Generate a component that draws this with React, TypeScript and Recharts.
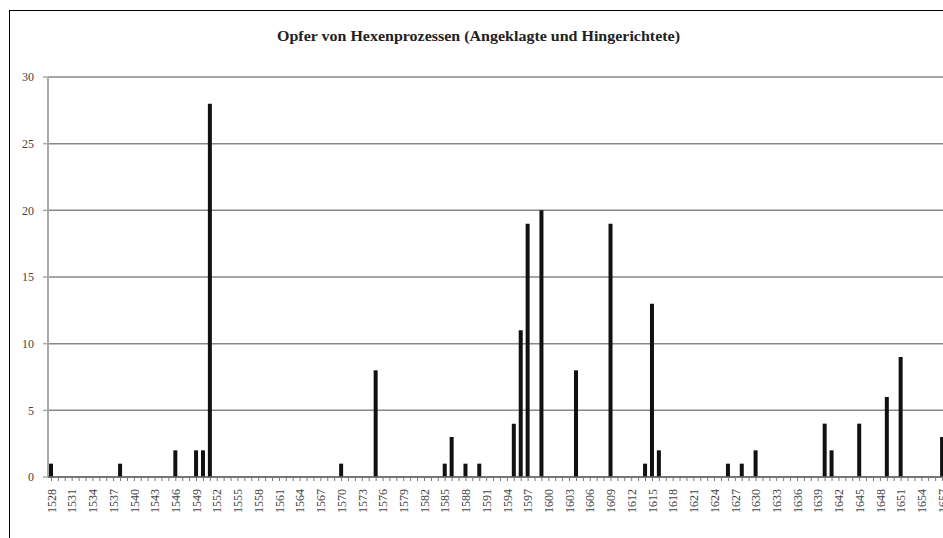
import React from "react";
import { BarChart, Bar, XAxis, YAxis, CartesianGrid } from "recharts";

const TITLE = "Opfer von Hexenprozessen (Angeklagte und Hingerichtete)";

const years: string[] = [
  "1528", "1529", "1530", "1531", "1532", "1533", "1534", "1535", "1536", "1537",
  "1538", "1539", "1540", "1541", "1542", "1543", "1544", "1545", "1546", "1547",
  "1548", "1549", "1550", "1551", "1552", "1553", "1554", "1555", "1556", "1557",
  "1558", "1559", "1560", "1561", "1562", "1563", "1564", "1565", "1566", "1567",
  "1568", "1569", "1570", "1571", "1572", "1573", "1574", "1575", "1576", "1577",
  "1578", "1579", "1580", "1581", "1582", "1583", "1584", "1585", "1586", "1587",
  "1588", "1589", "1590", "1591", "1592", "1593", "1594", "1595", "1596", "1597",
  "1598", "1599", "1600", "1601", "1602", "1603", "1604", "1605", "1606", "1607",
  "1608", "1609", "1610", "1611", "1612", "1613", "1614", "1615", "1616", "1617",
  "1618", "1619", "1620", "1621", "1622", "1623", "1624", "1625", "1626", "1627",
  "1628", "1629", "1630", "1631", "1632", "1633", "1634", "1635", "1636", "1637",
  "1638", "1639", "1640", "1641", "1642", "1643", "1644", "1645", "1646", "1647",
  "1648", "1649", "1650", "1651", "1652", "1653", "1654", "1655", "1656", "1657",
];

const victims: number[] = [
  1, 0, 0, 0, 0, 0, 0, 0, 0, 0,
  1, 0, 0, 0, 0, 0, 0, 0, 2, 0,
  0, 2, 2, 28, 0, 0, 0, 0, 0, 0,
  0, 0, 0, 0, 0, 0, 0, 0, 0, 0,
  0, 0, 1, 0, 0, 0, 0, 8, 0, 0,
  0, 0, 0, 0, 0, 0, 0, 1, 3, 0,
  1, 0, 1, 0, 0, 0, 0, 4, 11, 19,
  0, 20, 0, 0, 0, 0, 8, 0, 0, 0,
  0, 19, 0, 0, 0, 0, 1, 13, 2, 0,
  0, 0, 0, 0, 0, 0, 0, 0, 1, 0,
  1, 0, 2, 0, 0, 0, 0, 0, 0, 0,
  0, 0, 4, 2, 0, 0, 0, 4, 0, 0,
  0, 6, 0, 9, 0, 0, 0, 0, 0, 3,
];

const yTicks: number[] = [0, 5, 10, 15, 20, 25, 30];

const data = years.map((y, i) => ({ year: y, value: victims[i] }));

const FONT = "'Liberation Serif', 'Times New Roman', serif";

const YearTick = (props: any) => {
  const { x, y, payload, index } = props;
  if (index % 3 !== 0) return null;
  return (
    <text
      transform={`translate(${x},${y + 8}) rotate(-90)`}
      textAnchor="end"
      dy="0.35em"
      fontSize={12}
      fontFamily={FONT}
      fill="#444"
    >
      {payload.value}
    </text>
  );
};

export default function App() {
  return (
    <div
      style={{
        position: "fixed",
        left: 0,
        top: 0,
        width: 943,
        height: 538,
        overflow: "hidden",
        background: "#fff",
      }}
    >
      <div
        style={{
          position: "absolute",
          left: 9,
          top: 10,
          width: 939,
          height: 600,
          borderLeft: "1px solid #000",
          borderTop: "1px solid #000",
          boxSizing: "border-box",
        }}
      />
      <svg
        width={943}
        height={60}
        style={{ position: "absolute", left: 0, top: 0 }}
      >
        <text
          x={478.5}
          y={41}
          textAnchor="middle"
          fontFamily={FONT}
          fontWeight="bold"
          fontSize={14}
          fill="#222"
          textLength={403}
          lengthAdjust="spacingAndGlyphs"
        >
          {TITLE}
        </text>
      </svg>
      <div style={{ position: "absolute", left: 0, top: 0 }}>
        <BarChart
          width={960}
          height={538}
          data={data}
          margin={{ top: 77, right: 14, bottom: 0, left: 0 }}
          barCategoryGap={0}
        >
          <CartesianGrid vertical={false} stroke="#888" strokeWidth={1.5} />
          <YAxis
            width={48}
            domain={[0, 30]}
            ticks={yTicks}
            interval={0}
            tickSize={5}
            tickMargin={9}
            axisLine={{ stroke: "#aaa", strokeWidth: 2 }}
            tickLine={{ stroke: "#aaa", strokeWidth: 1.5 }}
            tick={{ fontSize: 12, fontFamily: FONT, fill: "#444" }}
          />
          <XAxis
            dataKey="year"
            height={61}
            interval={0}
            tickSize={4}
            tickMargin={0}
            axisLine={{ stroke: "#666", strokeWidth: 1.5 }}
            tickLine={{ stroke: "#777", strokeWidth: 1 }}
            tick={<YearTick />}
          />
          <Bar dataKey="value" fill="#111" barSize={4} isAnimationActive={false} />
        </BarChart>
      </div>
    </div>
  );
}
